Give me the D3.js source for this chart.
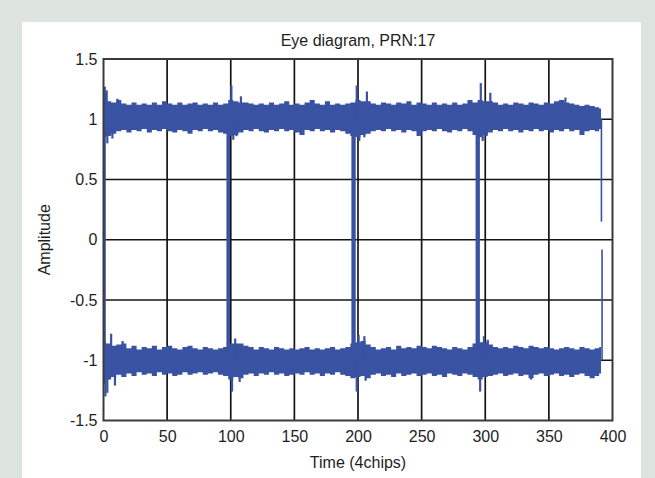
<!DOCTYPE html>
<html>
<head>
<meta charset="utf-8">
<script src="https://cdn.jsdelivr.net/npm/d3@7/dist/d3.min.js"></script>
<style>
  html, body { margin: 0; padding: 0; background: #dde4e0; }
  svg { display: block; }
  text { font-family: "Liberation Sans", Arial, sans-serif; fill: #1e1e1e; }
</style>
</head>
<body>
<svg id="chart" width="655" height="478"></svg>
<script>
// Eye diagram of the PRN 17 signal, folded over 4 chips.
const titleText = "Eye diagram, PRN:17";
const xLabel = "Time (4chips)";
const yLabel = "Amplitude";

const xTicks = [0, 50, 100, 150, 200, 250, 300, 350, 400];
const yTicks = [1.5, 1, 0.5, 0, -0.5, -1, -1.5];
const yTickLabels = ["1.5", "1", "0.5", "0", "-0.5", "-1", "-1.5"];

// Sample instants of the band envelopes (time in chip units)
const sampleT = [0,4,8,12,16,20,24,28,32,36,40,44,48,52,56,60,64,68,72,76,80,84,88,92,96,
  100,104,108,112,116,120,124,128,132,136,140,144,148,152,156,160,164,168,172,176,180,184,188,192,196,
  200,204,208,212,216,220,224,228,232,236,240,244,248,252,256,260,264,268,272,276,280,284,288,292,296,
  300,304,308,312,316,320,324,328,332,336,340,344,348,352,356,360,364,368,372,376,380,384,388,391];

// "+1" level: upper and lower edge of the noise band
const highTop = [1.22,1.15,1.14,1.16,1.13,1.12,1.14,1.12,1.13,1.12,1.14,1.12,1.15,1.13,1.12,1.14,1.12,1.13,1.14,1.12,1.13,1.12,1.14,1.12,1.13,
  1.16,1.15,1.14,1.14,1.13,1.12,1.13,1.12,1.14,1.12,1.13,1.15,1.12,1.13,1.12,1.14,1.16,1.13,1.12,1.15,1.12,1.13,1.12,1.13,1.14,
  1.16,1.15,1.15,1.13,1.12,1.14,1.13,1.12,1.14,1.13,1.15,1.12,1.14,1.13,1.12,1.14,1.12,1.13,1.12,1.14,1.12,1.13,1.16,1.14,1.16,
  1.15,1.15,1.14,1.12,1.13,1.12,1.14,1.13,1.12,1.14,1.13,1.12,1.14,1.13,1.15,1.16,1.14,1.13,1.12,1.11,1.12,1.11,1.10,1.09];
const highBottom = [0.85,0.86,0.88,0.90,0.91,0.89,0.91,0.90,0.92,0.89,0.91,0.90,0.92,0.90,0.89,0.91,0.90,0.88,0.91,0.90,0.92,0.90,0.91,0.89,0.88,
  0.86,0.87,0.89,0.91,0.90,0.92,0.90,0.89,0.91,0.90,0.92,0.90,0.91,0.89,0.87,0.91,0.90,0.92,0.90,0.91,0.89,0.91,0.90,0.88,0.86,
  0.85,0.87,0.88,0.90,0.91,0.90,0.92,0.90,0.91,0.89,0.91,0.90,0.86,0.90,0.91,0.90,0.92,0.90,0.89,0.91,0.90,0.92,0.90,0.87,0.85,
  0.87,0.89,0.91,0.90,0.92,0.90,0.91,0.89,0.91,0.90,0.92,0.90,0.91,0.89,0.91,0.90,0.92,0.90,0.91,0.87,0.90,0.91,0.90,0.92];

// "-1" level: upper and lower edge of the noise band
const lowTop = [-0.84,-0.86,-0.88,-0.87,-0.86,-0.90,-0.88,-0.91,-0.89,-0.90,-0.88,-0.91,-0.89,-0.88,-0.90,-0.91,-0.89,-0.88,-0.90,-0.91,-0.89,-0.90,-0.91,-0.90,-0.89,
  -0.86,-0.86,-0.86,-0.88,-0.89,-0.91,-0.89,-0.90,-0.91,-0.89,-0.90,-0.91,-0.90,-0.91,-0.90,-0.89,-0.91,-0.90,-0.91,-0.90,-0.89,-0.91,-0.90,-0.89,-0.86,
  -0.85,-0.84,-0.87,-0.89,-0.91,-0.90,-0.89,-0.91,-0.88,-0.90,-0.89,-0.90,-0.88,-0.89,-0.90,-0.88,-0.89,-0.90,-0.91,-0.89,-0.90,-0.91,-0.89,-0.86,-0.85,
  -0.85,-0.87,-0.89,-0.90,-0.89,-0.90,-0.88,-0.89,-0.90,-0.88,-0.89,-0.90,-0.89,-0.90,-0.91,-0.90,-0.89,-0.90,-0.91,-0.89,-0.90,-0.91,-0.90,-0.89];
const lowBottom = [-1.20,-1.16,-1.14,-1.12,-1.14,-1.11,-1.13,-1.10,-1.12,-1.11,-1.13,-1.10,-1.12,-1.11,-1.13,-1.12,-1.10,-1.12,-1.11,-1.10,-1.12,-1.11,-1.10,-1.12,-1.13,
  -1.16,-1.14,-1.15,-1.12,-1.11,-1.13,-1.11,-1.12,-1.10,-1.12,-1.11,-1.13,-1.12,-1.11,-1.12,-1.10,-1.12,-1.11,-1.13,-1.11,-1.12,-1.10,-1.12,-1.13,-1.15,
  -1.14,-1.13,-1.15,-1.12,-1.11,-1.13,-1.12,-1.14,-1.11,-1.13,-1.12,-1.11,-1.13,-1.12,-1.11,-1.13,-1.12,-1.14,-1.11,-1.12,-1.13,-1.11,-1.12,-1.14,-1.16,
  -1.14,-1.13,-1.12,-1.11,-1.13,-1.12,-1.11,-1.13,-1.12,-1.15,-1.12,-1.11,-1.13,-1.12,-1.11,-1.13,-1.12,-1.14,-1.12,-1.11,-1.13,-1.15,-1.13,-1.11];

// Chip transitions (start / end time of each crossing between levels)
const transStart = [0, 96.6, 194.8, 292.4];
const transEnd   = [1.8, 99.4, 198.2, 295.8];

// Overshoot and ringing spikes: time, level they leave from, peak value
const spikeT    = [1, 2.5, 11, 100.5, 108, 199, 207, 296.5, 304, 363,
                   3, 7, 102, 104.5, 201, 205, 298, 301,
                   1.5, 3, 9, 101, 107, 199, 206, 296, 336,
                   6, 15, 103.5, 200.5, 205, 299, 302];
const spikeFrom = [1, 1, 1, 1, 1, 1, 1, 1, 1, 1,
                   1, 1, 1, 1, 1, 1, 1, 1,
                   -1, -1, -1, -1, -1, -1, -1, -1, -1,
                   -1, -1, -1, -1, -1, -1, -1];
const spikePeak = [1.27, 1.24, 1.17, 1.28, 1.19, 1.28, 1.23, 1.30, 1.22, 1.18,
                   0.80, 0.84, 0.83, 0.86, 0.82, 0.85, 0.82, 0.86,
                   -1.30, -1.27, -1.21, -1.26, -1.18, -1.26, -1.17, -1.26, -1.16,
                   -0.78, -0.84, -0.82, -0.79, -0.80, -0.80, -0.83];

// Trailing edge at the end of the window
const tailT = [391.3, 391.8];
const tailFrom = [1.0, -1.0];
const tailTo = [0.15, -0.08];

const blue = "#3a52a2";

const svg = d3.select("#chart");
const H = 478;

// white figure panel
svg.append("rect").attr("x", 22).attr("y", 22).attr("width", 619).attr("height", H - 22).attr("fill", "#fff");

const plot = { left: 103.5, right: 612.5, top: 59, bottom: 420.5 };
const x = d3.scaleLinear().domain([0, 400]).range([plot.left, plot.right]);
const y = d3.scaleLinear().domain([-1.5, 1.5]).range([plot.bottom, plot.top]);

// grid
const grid = svg.append("g").attr("stroke", "#141414").attr("stroke-width", 1.7);
grid.selectAll("line.v").data(xTicks.slice(1, -1)).join("line")
  .attr("x1", d => x(d)).attr("x2", d => x(d)).attr("y1", plot.top).attr("y2", plot.bottom);
grid.selectAll("line.h").data(yTicks.slice(1, -1)).join("line")
  .attr("x1", plot.left).attr("x2", plot.right).attr("y1", d => y(d)).attr("y2", d => y(d));

// signal: noise bands around the two levels
const data = d3.range(sampleT.length).map(i => ({
  t: sampleT[i], ht: highTop[i], hb: highBottom[i], lt: lowTop[i], lb: lowBottom[i]
}));
const sig = svg.append("g");
sig.append("path").datum(data).attr("fill", blue)
  .attr("d", d3.area().curve(d3.curveStep).x(d => x(d.t)).y0(d => y(d.hb)).y1(d => y(d.ht)));
sig.append("path").datum(data).attr("fill", blue)
  .attr("d", d3.area().curve(d3.curveStep).x(d => x(d.t)).y0(d => y(d.lb)).y1(d => y(d.lt)));

// chip transitions
sig.selectAll("rect.tr").data(transStart).join("rect")
  .attr("x", (d, i) => x(d)).attr("width", (d, i) => x(transEnd[i]) - x(d))
  .attr("y", y(1)).attr("height", y(-1) - y(1)).attr("fill", blue);

// overshoot spikes
sig.selectAll("line.sp").data(spikeT).join("line")
  .attr("x1", d => x(d)).attr("x2", d => x(d))
  .attr("y1", (d, i) => y(spikeFrom[i])).attr("y2", (d, i) => y(spikePeak[i]))
  .attr("stroke", blue).attr("stroke-width", 2.2);

// trailing edge
sig.selectAll("line.tail").data(tailT).join("line")
  .attr("x1", d => x(d)).attr("x2", d => x(d))
  .attr("y1", (d, i) => y(tailFrom[i])).attr("y2", (d, i) => y(tailTo[i]))
  .attr("stroke", blue).attr("stroke-width", 1.6);

// frame
svg.append("rect").attr("x", plot.left).attr("y", plot.top)
  .attr("width", plot.right - plot.left).attr("height", plot.bottom - plot.top)
  .attr("fill", "none").attr("stroke", "#3a3a3a").attr("stroke-width", 2);

// tick labels
const xAxis = svg.append("g").attr("transform", `translate(0,${plot.bottom})`)
  .call(d3.axisBottom(x).tickValues(xTicks).tickSize(0).tickPadding(10).tickFormat(d3.format("d")));
const yAxis = svg.append("g").attr("transform", `translate(${plot.left},0)`)
  .call(d3.axisLeft(y).tickValues(yTicks).tickSize(0).tickPadding(6)
    .tickFormat((d, i) => yTickLabels[i]));
[xAxis, yAxis].forEach(g => {
  g.select(".domain").remove();
  g.selectAll("text").attr("font-size", 16).attr("font-family", "Liberation Sans, Arial, sans-serif").attr("fill", "#1e1e1e");
});

svg.append("text").attr("x", (plot.left + plot.right) / 2).attr("y", 46)
  .attr("text-anchor", "middle").attr("font-size", 16).text(titleText);
svg.append("text").attr("x", (plot.left + plot.right) / 2).attr("y", 468)
  .attr("text-anchor", "middle").attr("font-size", 16).text(xLabel);
svg.append("text").attr("transform", `translate(50,${(plot.top + plot.bottom) / 2}) rotate(-90)`)
  .attr("text-anchor", "middle").attr("font-size", 16).text(yLabel);
</script>
</body>
</html>
